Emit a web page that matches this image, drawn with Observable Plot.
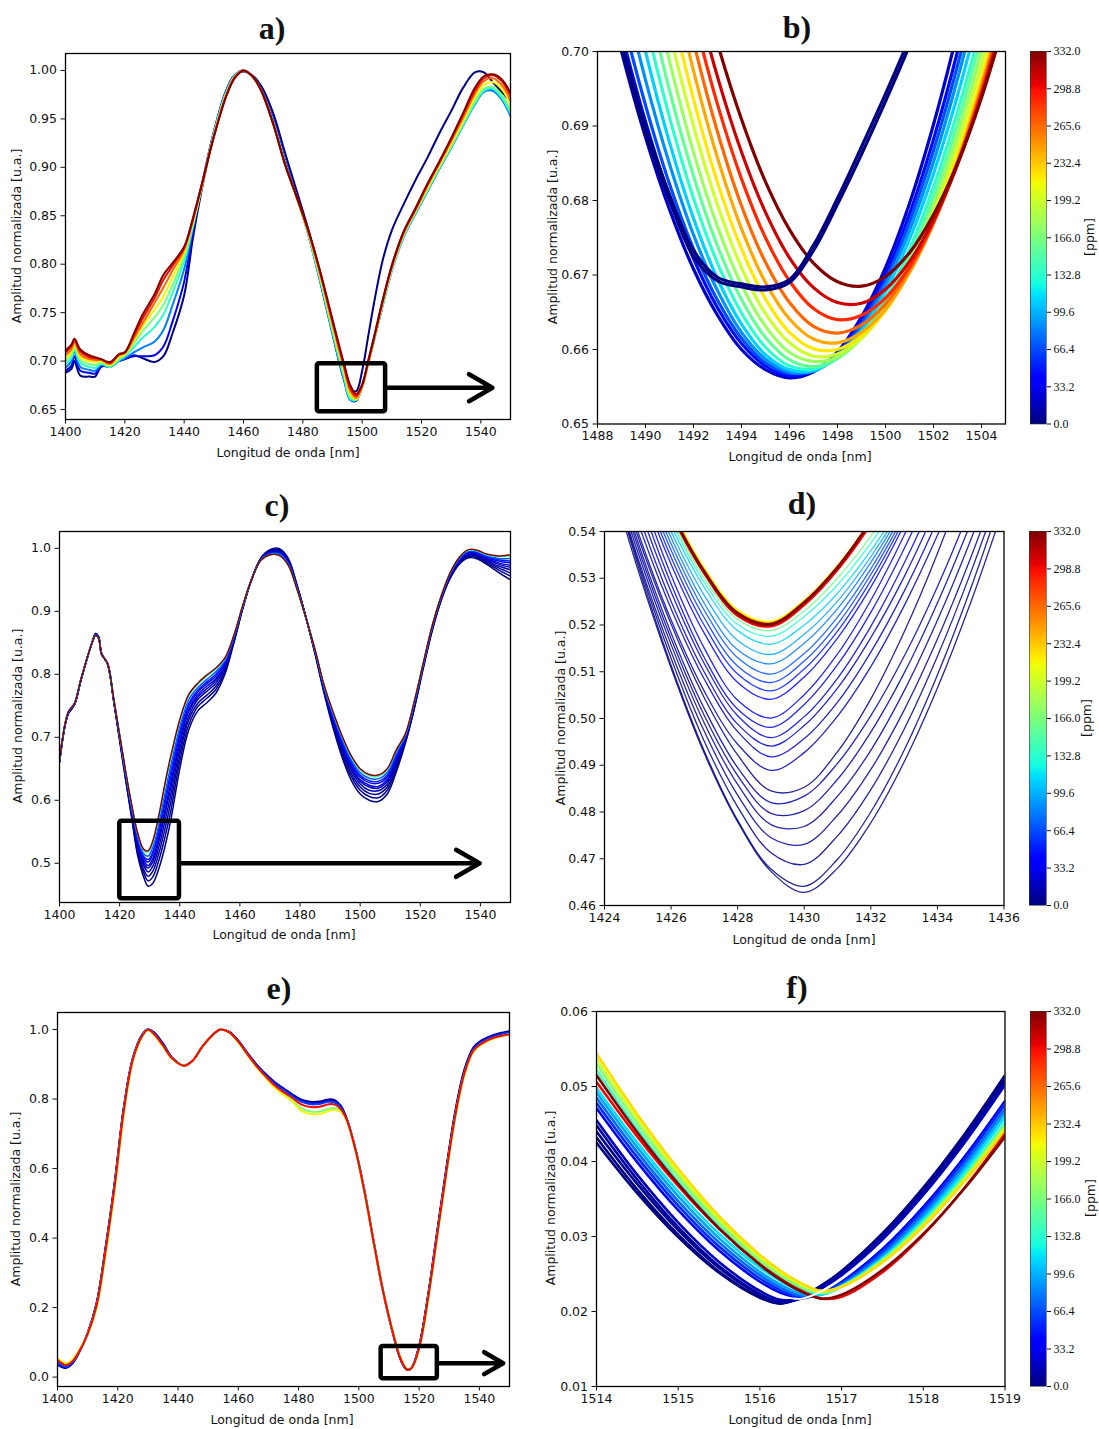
<!DOCTYPE html>
<html><head><meta charset="utf-8">
<script src="https://cdn.jsdelivr.net/npm/d3@7"></script>
<script src="https://cdn.jsdelivr.net/npm/@observablehq/plot@0.6"></script>
<style>
body{margin:0;background:#fff;}
#fig{position:relative;width:1099px;height:1429px;background:#fff;overflow:hidden;font-family:"DejaVu Sans",sans-serif;color:#111;}
#fig svg{position:absolute;}
.ttl{position:absolute;font-family:"Liberation Serif","Times New Roman",serif;font-weight:bold;font-size:32px;line-height:1;transform:translate(-50%,-50%);white-space:nowrap;}
.xl{position:absolute;font-size:12.5px;line-height:1;transform:translate(-50%,-50%);white-space:nowrap;}
.yl{position:absolute;font-size:12.5px;line-height:1;transform:translate(-50%,-50%) rotate(-90deg);white-space:nowrap;}
</style></head><body><div id="fig"></div>
<script>
// ---------- texts ----------
const panelTitles = ["a)","b)","c)","d)","e)","f)"];
const xLabel = "Longitud de onda [nm]";
const yLabel = "Amplitud normalizada [u.a.]";
const cbLabel = "[ppm]";

// ---------- ticks ----------
const ticksXFull = [1400,1420,1440,1460,1480,1500,1520,1540];
const ticksXB = [1488,1490,1492,1494,1496,1498,1500,1502,1504];
const ticksXD = [1424,1426,1428,1430,1432,1434,1436];
const ticksXF = [1514,1515,1516,1517,1518,1519];
const ticksYA = [0.65,0.70,0.75,0.80,0.85,0.90,0.95,1.00];
const ticksYB = [0.65,0.66,0.67,0.68,0.69,0.70];
const ticksYC = [0.5,0.6,0.7,0.8,0.9,1.0];
const ticksYD = [0.46,0.47,0.48,0.49,0.50,0.51,0.52,0.53,0.54];
const ticksYE = [0.0,0.2,0.4,0.6,0.8,1.0];
const ticksYF = [0.01,0.02,0.03,0.04,0.05,0.06];
const cbTicks = [0,33.2,66.4,99.6,132.8,166.0,199.2,232.4,265.6,298.8,332.0];

// ---------- panel a ----------
const aX = [1400,1402,1403,1405,1408,1410,1412,1415,1418,1420,1423,1426,1430,1433,1436,1440,1443,1446,1450,1454,1457,1460,1463,1466,1470,1474,1478,1482,1486,1489,1492,1494,1496,1498,1500,1502,1504,1507,1510,1514,1518,1522,1526,1530,1534,1538,1541,1544,1547,1550];
const a000 = [0.688,0.692,0.700,0.685,0.684,0.684,0.694,0.696,0.700,0.702,0.706,0.703,0.699,0.705,0.728,0.768,0.828,0.878,0.935,0.978,0.995,0.999,0.995,0.984,0.956,0.915,0.875,0.834,0.786,0.745,0.706,0.685,0.671,0.669,0.690,0.725,0.760,0.805,0.835,0.862,0.887,0.910,0.935,0.958,0.982,0.998,0.998,0.988,0.978,0.968];
const a033 = [0.690,0.695,0.705,0.690,0.688,0.687,0.695,0.694,0.700,0.702,0.705,0.705,0.706,0.715,0.740,0.782,0.835,0.882,0.937,0.978,0.995,1.000,0.994,0.980,0.950,0.908,0.870,0.829,0.780,0.741,0.702,0.679,0.660,0.659,0.674,0.698,0.722,0.760,0.795,0.830,0.853,0.876,0.899,0.921,0.944,0.966,0.978,0.980,0.972,0.955];
const a083 = [0.693,0.700,0.710,0.694,0.691,0.690,0.696,0.694,0.700,0.703,0.709,0.714,0.720,0.732,0.757,0.795,0.838,0.882,0.936,0.977,0.995,1.000,0.994,0.980,0.948,0.906,0.869,0.829,0.781,0.742,0.703,0.680,0.660,0.660,0.673,0.697,0.721,0.758,0.793,0.828,0.852,0.875,0.898,0.920,0.943,0.965,0.978,0.979,0.970,0.953];
const a133 = [0.697,0.703,0.712,0.698,0.694,0.693,0.697,0.694,0.701,0.705,0.714,0.724,0.735,0.748,0.770,0.803,0.840,0.881,0.935,0.976,0.994,1.000,0.994,0.979,0.947,0.905,0.868,0.829,0.782,0.743,0.705,0.682,0.661,0.660,0.673,0.697,0.722,0.759,0.794,0.829,0.853,0.876,0.899,0.921,0.944,0.966,0.979,0.981,0.972,0.956];
const a166 = [0.700,0.706,0.715,0.701,0.697,0.696,0.698,0.695,0.702,0.706,0.718,0.731,0.745,0.758,0.778,0.808,0.842,0.881,0.934,0.975,0.994,1.000,0.994,0.979,0.946,0.904,0.868,0.830,0.784,0.746,0.708,0.685,0.663,0.660,0.673,0.697,0.722,0.760,0.795,0.830,0.854,0.877,0.900,0.922,0.945,0.968,0.981,0.983,0.975,0.959];
const a216 = [0.703,0.709,0.718,0.704,0.700,0.699,0.700,0.696,0.704,0.707,0.721,0.736,0.753,0.767,0.786,0.812,0.844,0.881,0.933,0.974,0.993,1.000,0.994,0.979,0.945,0.903,0.868,0.831,0.786,0.748,0.711,0.688,0.666,0.661,0.673,0.697,0.722,0.761,0.796,0.831,0.855,0.879,0.902,0.924,0.948,0.972,0.985,0.988,0.981,0.965];
const a266 = [0.706,0.712,0.720,0.707,0.702,0.701,0.701,0.697,0.706,0.708,0.723,0.739,0.760,0.776,0.793,0.815,0.846,0.882,0.932,0.973,0.993,1.000,0.994,0.979,0.945,0.903,0.868,0.832,0.788,0.751,0.714,0.691,0.669,0.662,0.674,0.698,0.723,0.762,0.797,0.832,0.856,0.881,0.904,0.927,0.951,0.976,0.989,0.992,0.985,0.970];
const a299 = [0.709,0.715,0.722,0.710,0.704,0.703,0.702,0.698,0.707,0.709,0.726,0.744,0.765,0.784,0.798,0.817,0.847,0.883,0.932,0.972,0.992,1.000,0.994,0.979,0.945,0.903,0.869,0.833,0.790,0.753,0.717,0.694,0.672,0.664,0.675,0.699,0.724,0.763,0.798,0.833,0.857,0.882,0.905,0.929,0.954,0.979,0.992,0.995,0.989,0.974];
const a332 = [0.711,0.717,0.723,0.712,0.706,0.704,0.702,0.699,0.707,0.709,0.728,0.748,0.769,0.789,0.801,0.818,0.848,0.883,0.931,0.972,0.992,1.000,0.994,0.979,0.945,0.903,0.869,0.834,0.791,0.755,0.719,0.696,0.675,0.666,0.676,0.700,0.725,0.764,0.799,0.834,0.858,0.883,0.906,0.930,0.956,0.982,0.994,0.996,0.991,0.977];
const aBoxX = [1484.9, 1507.9], aBoxY = [0.6477, 0.6973];
const aArrowX = [1507.9, 1543.9], aArrowY = [0.6725];

// ---------- panel b ----------
const bX = [1488,1489,1490,1491,1492,1493,1494,1495,1496,1497,1498,1499,1500,1501,1502,1503,1504,1505];
const b000a = [0.7140,0.7005,0.6890,0.6800,0.6725,0.6692,0.6684,0.6680,0.6690,0.6733,0.6795,0.6862,0.6933,0.7008,0.7088,0.7170,0.7255,0.7340];
const b000b = [0.7150,0.7015,0.6900,0.6808,0.6733,0.6697,0.6688,0.6684,0.6694,0.6740,0.6803,0.6872,0.6943,0.7018,0.7098,0.7180,0.7265,0.7350];
const b022 = [0.7132,0.7000,0.6885,0.6788,0.6708,0.6646,0.6600,0.6573,0.6562,0.6570,0.6597,0.6644,0.6710,0.6796,0.6902,0.7027,0.7171,0.7335];
const b044 = [0.7162,0.7025,0.6906,0.6805,0.6722,0.6656,0.6608,0.6578,0.6565,0.6571,0.6596,0.6639,0.6701,0.6782,0.6882,0.7000,0.7138,0.7294];
const b066 = [0.7193,0.7051,0.6928,0.6822,0.6735,0.6666,0.6615,0.6582,0.6568,0.6572,0.6594,0.6634,0.6693,0.6771,0.6867,0.6981,0.7114,0.7266];
const b088 = [0.7247,0.7095,0.6962,0.6849,0.6754,0.6679,0.6623,0.6587,0.6570,0.6571,0.6591,0.6629,0.6686,0.6760,0.6852,0.6963,0.7092,0.7239];
const b110 = [0.7306,0.7143,0.7000,0.6878,0.6776,0.6695,0.6634,0.6593,0.6573,0.6572,0.6590,0.6625,0.6678,0.6748,0.6836,0.6941,0.7064,0.7204];
const b133 = [0.7362,0.7191,0.7041,0.6912,0.6803,0.6716,0.6649,0.6603,0.6578,0.6574,0.6588,0.6619,0.6668,0.6734,0.6818,0.6919,0.7037,0.7173];
const b155 = [0.7421,0.7242,0.7085,0.6948,0.6833,0.6739,0.6667,0.6616,0.6586,0.6577,0.6588,0.6616,0.6661,0.6724,0.6805,0.6903,0.7019,0.7152];
const b177 = [0.7482,0.7295,0.7130,0.6987,0.6865,0.6765,0.6687,0.6631,0.6596,0.6584,0.6590,0.6615,0.6657,0.6716,0.6793,0.6888,0.7000,0.7130];
const b199 = [0.7543,0.7349,0.7177,0.7027,0.6900,0.6794,0.6710,0.6648,0.6609,0.6591,0.6594,0.6615,0.6654,0.6710,0.6783,0.6874,0.6982,0.7108];
const b221 = [0.7606,0.7405,0.7226,0.7070,0.6936,0.6824,0.6735,0.6668,0.6623,0.6601,0.6600,0.6618,0.6652,0.6705,0.6774,0.6861,0.6965,0.7087];
const b243 = [0.7667,0.7460,0.7276,0.7114,0.6974,0.6857,0.6762,0.6690,0.6641,0.6614,0.6609,0.6623,0.6654,0.6703,0.6769,0.6853,0.6955,0.7073];
const b266 = [0.7724,0.7512,0.7324,0.7157,0.7013,0.6892,0.6793,0.6717,0.6663,0.6631,0.6622,0.6633,0.6661,0.6707,0.6770,0.6851,0.6950,0.7066];
const b288 = [0.7753,0.7546,0.7360,0.7195,0.7051,0.6929,0.6829,0.6750,0.6692,0.6655,0.6640,0.6646,0.6669,0.6711,0.6771,0.6849,0.6945,0.7059];
const b310 = [0.7775,0.7572,0.7390,0.7229,0.7087,0.6966,0.6865,0.6784,0.6723,0.6683,0.6663,0.6662,0.6681,0.6718,0.6774,0.6848,0.6941,0.7053];
const b332 = [0.7816,0.7617,0.7436,0.7275,0.7134,0.7011,0.6909,0.6825,0.6761,0.6716,0.6691,0.6685,0.6698,0.6730,0.6781,0.6850,0.6938,0.7045];

// ---------- panel c ----------
const cX = [1400,1401,1402,1403,1405,1407,1409,1411,1412,1413,1414,1416,1418,1420,1422,1424,1426,1428,1429.5,1431,1433,1435,1437,1440,1443,1446,1449,1452,1455,1458,1461,1464,1467,1470,1473,1476,1479,1482,1485,1488,1491,1494,1497,1500,1503,1506,1509,1512,1515,1518,1521,1524,1527,1530,1533,1536,1539,1542,1546,1550];
const c000 = [0.660,0.695,0.722,0.738,0.752,0.788,0.822,0.853,0.865,0.860,0.833,0.816,0.758,0.695,0.632,0.572,0.512,0.478,0.4635,0.468,0.491,0.525,0.568,0.650,0.712,0.742,0.755,0.770,0.800,0.850,0.905,0.952,0.985,0.998,1.000,0.985,0.942,0.890,0.832,0.770,0.715,0.668,0.632,0.610,0.600,0.598,0.610,0.645,0.690,0.745,0.810,0.870,0.918,0.953,0.975,0.985,0.983,0.975,0.962,0.950];
const c004 = [0.660,0.695,0.722,0.738,0.752,0.788,0.822,0.853,0.865,0.860,0.833,0.816,0.759,0.696,0.634,0.575,0.517,0.485,0.4720,0.478,0.504,0.540,0.583,0.662,0.720,0.749,0.762,0.776,0.804,0.852,0.906,0.952,0.984,0.997,0.998,0.983,0.941,0.890,0.833,0.772,0.719,0.673,0.638,0.616,0.606,0.604,0.616,0.650,0.692,0.747,0.811,0.871,0.919,0.954,0.977,0.987,0.985,0.977,0.966,0.956];
const c008 = [0.661,0.696,0.723,0.739,0.753,0.789,0.822,0.853,0.864,0.859,0.833,0.816,0.759,0.698,0.636,0.578,0.522,0.490,0.4793,0.487,0.515,0.553,0.597,0.672,0.728,0.754,0.767,0.781,0.807,0.853,0.906,0.952,0.984,0.996,0.997,0.982,0.940,0.890,0.834,0.774,0.722,0.678,0.643,0.621,0.611,0.610,0.621,0.655,0.694,0.748,0.812,0.872,0.920,0.956,0.978,0.989,0.987,0.979,0.969,0.961];
const c013 = [0.661,0.696,0.723,0.739,0.753,0.789,0.822,0.853,0.864,0.859,0.833,0.816,0.760,0.699,0.638,0.580,0.526,0.496,0.4861,0.495,0.525,0.565,0.609,0.681,0.734,0.760,0.773,0.786,0.810,0.855,0.907,0.952,0.983,0.995,0.996,0.981,0.939,0.890,0.835,0.775,0.725,0.682,0.648,0.626,0.616,0.615,0.626,0.659,0.696,0.750,0.813,0.873,0.921,0.957,0.979,0.990,0.989,0.981,0.972,0.966];
const c018 = [0.662,0.697,0.724,0.740,0.753,0.789,0.823,0.852,0.863,0.858,0.832,0.817,0.760,0.700,0.639,0.583,0.530,0.500,0.4923,0.502,0.534,0.576,0.620,0.690,0.741,0.764,0.777,0.790,0.813,0.856,0.908,0.952,0.983,0.994,0.994,0.979,0.938,0.889,0.836,0.777,0.728,0.685,0.652,0.630,0.621,0.619,0.630,0.663,0.698,0.751,0.814,0.874,0.922,0.958,0.981,0.992,0.990,0.983,0.975,0.970];
const c025 = [0.662,0.697,0.724,0.740,0.753,0.789,0.823,0.852,0.863,0.858,0.832,0.817,0.760,0.700,0.640,0.584,0.533,0.504,0.4963,0.507,0.540,0.583,0.627,0.695,0.744,0.768,0.781,0.793,0.815,0.857,0.908,0.952,0.983,0.993,0.994,0.979,0.938,0.889,0.836,0.778,0.730,0.688,0.655,0.633,0.624,0.622,0.633,0.665,0.699,0.752,0.815,0.875,0.922,0.958,0.981,0.993,0.991,0.984,0.977,0.973];
const c035 = [0.662,0.697,0.724,0.740,0.753,0.789,0.823,0.852,0.863,0.858,0.832,0.817,0.761,0.701,0.642,0.586,0.536,0.508,0.5019,0.514,0.548,0.593,0.637,0.703,0.750,0.772,0.785,0.797,0.818,0.858,0.908,0.952,0.982,0.993,0.993,0.978,0.937,0.889,0.837,0.779,0.732,0.691,0.659,0.637,0.628,0.627,0.637,0.669,0.700,0.753,0.815,0.875,0.923,0.959,0.982,0.994,0.993,0.986,0.980,0.977];
const c050 = [0.662,0.697,0.724,0.740,0.754,0.790,0.823,0.852,0.863,0.858,0.832,0.817,0.761,0.702,0.643,0.588,0.539,0.511,0.5059,0.518,0.554,0.600,0.645,0.709,0.754,0.775,0.788,0.800,0.820,0.859,0.909,0.952,0.982,0.992,0.992,0.977,0.937,0.889,0.837,0.780,0.734,0.694,0.661,0.640,0.631,0.630,0.640,0.671,0.701,0.754,0.816,0.876,0.923,0.960,0.983,0.995,0.994,0.987,0.982,0.980];
const c070 = [0.663,0.698,0.725,0.741,0.754,0.790,0.823,0.852,0.862,0.857,0.832,0.817,0.761,0.703,0.644,0.590,0.543,0.515,0.5115,0.525,0.562,0.610,0.655,0.716,0.760,0.779,0.792,0.804,0.822,0.860,0.909,0.952,0.982,0.991,0.991,0.976,0.936,0.889,0.838,0.781,0.736,0.697,0.665,0.644,0.635,0.634,0.644,0.675,0.703,0.755,0.817,0.877,0.924,0.961,0.984,0.996,0.995,0.989,0.984,0.984];
const c140 = [0.663,0.698,0.725,0.741,0.754,0.790,0.823,0.852,0.862,0.857,0.832,0.817,0.762,0.704,0.645,0.592,0.547,0.520,0.5177,0.532,0.572,0.621,0.666,0.725,0.766,0.784,0.797,0.808,0.825,0.862,0.910,0.952,0.981,0.990,0.989,0.974,0.935,0.889,0.839,0.782,0.739,0.701,0.669,0.648,0.639,0.638,0.648,0.679,0.704,0.757,0.818,0.878,0.925,0.962,0.986,0.997,0.996,0.990,0.987,0.988];
const c332 = [0.663,0.698,0.725,0.741,0.754,0.790,0.823,0.852,0.862,0.857,0.832,0.817,0.762,0.704,0.646,0.593,0.548,0.522,0.520,0.535,0.575,0.625,0.670,0.728,0.768,0.786,0.799,0.810,0.826,0.862,0.910,0.952,0.981,0.990,0.989,0.974,0.935,0.889,0.839,0.783,0.740,0.702,0.671,0.650,0.641,0.640,0.650,0.680,0.705,0.757,0.818,0.878,0.925,0.962,0.986,0.998,0.997,0.991,0.988,0.990];
const cBoxX = [1420.05, 1439.9], cBoxY = [0.4436, 0.5668];
const cArrowX = [1439.9, 1539.7], cArrowY = [0.5];

// ---------- panel d ----------
const dX = [1424,1425,1426,1427,1428,1429,1430,1431,1432,1433,1434,1435,1436];
const dPpm = [0,0,3,5,7,9,11,0,14,17,20,24,28,33,40,50,60,70,82,95,110,130,160,215,266,300,320,332];
const d01 = [0.5560,0.5319,0.5108,0.4925,0.4779,0.4673,0.4628,0.4680,0.4777,0.4907,0.5065,0.5248,0.5454];
const d02 = [0.5574,0.5329,0.5114,0.4930,0.4782,0.4678,0.4641,0.4699,0.4800,0.4932,0.5093,0.5278,0.5486];
const d03 = [0.5574,0.5337,0.5129,0.4951,0.4811,0.4713,0.4688,0.4749,0.4848,0.4977,0.5133,0.5312,0.5513];
const d04 = [0.5576,0.5344,0.5143,0.4972,0.4836,0.4745,0.4731,0.4793,0.4891,0.5018,0.5170,0.5344,0.5539];
const d05 = [0.5584,0.5356,0.5158,0.4990,0.4859,0.4773,0.4769,0.4834,0.4932,0.5059,0.5210,0.5382,0.5574];
const d06 = [0.5594,0.5368,0.5171,0.5006,0.4878,0.4797,0.4803,0.4870,0.4971,0.5097,0.5247,0.5418,0.5608];
const d07 = [0.5605,0.5378,0.5183,0.5021,0.4895,0.4820,0.4834,0.4904,0.5006,0.5133,0.5282,0.5453,0.5643];
const d08 = [0.5605,0.5390,0.5202,0.5044,0.4922,0.4845,0.4853,0.4929,0.5042,0.5185,0.5353,0.5547,0.5761];
const d09 = [0.5620,0.5400,0.5211,0.5058,0.4945,0.4889,0.4927,0.5005,0.5111,0.5241,0.5392,0.5562,0.5751];
const d10 = [0.5636,0.5420,0.5235,0.5084,0.4972,0.4918,0.4957,0.5035,0.5142,0.5272,0.5424,0.5596,0.5786];
const d11 = [0.5661,0.5440,0.5251,0.5099,0.4988,0.4941,0.4985,0.5065,0.5173,0.5303,0.5456,0.5626,0.5816];
const d12 = [0.5682,0.5460,0.5271,0.5117,0.5006,0.4959,0.5004,0.5086,0.5197,0.5332,0.5488,0.5665,0.5860];
const d13 = [0.5711,0.5482,0.5288,0.5130,0.5020,0.4981,0.5030,0.5115,0.5227,0.5363,0.5519,0.5695,0.5890];
const d14 = [0.5731,0.5502,0.5307,0.5150,0.5039,0.5001,0.5051,0.5138,0.5253,0.5392,0.5553,0.5734,0.5931];
const d15 = [0.5731,0.5515,0.5330,0.5182,0.5077,0.5041,0.5089,0.5172,0.5281,0.5414,0.5567,0.5740,0.5929];
const d16 = [0.5741,0.5528,0.5345,0.5199,0.5095,0.5059,0.5106,0.5187,0.5295,0.5425,0.5575,0.5744,0.5930];
const d17 = [0.5752,0.5540,0.5360,0.5215,0.5112,0.5077,0.5123,0.5202,0.5308,0.5435,0.5583,0.5749,0.5928];
const d18 = [0.5760,0.5552,0.5374,0.5231,0.5130,0.5095,0.5139,0.5217,0.5320,0.5445,0.5588,0.5748,0.5927];
const d19 = [0.5770,0.5563,0.5387,0.5246,0.5147,0.5117,0.5161,0.5235,0.5334,0.5452,0.5589,0.5742,0.5911];
const d20 = [0.5772,0.5571,0.5400,0.5263,0.5167,0.5137,0.5180,0.5251,0.5346,0.5459,0.5590,0.5735,0.5897];
const d21 = [0.5768,0.5576,0.5412,0.5280,0.5188,0.5159,0.5200,0.5268,0.5359,0.5467,0.5593,0.5732,0.5886];
const d22 = [0.5778,0.5586,0.5422,0.5291,0.5201,0.5176,0.5218,0.5286,0.5375,0.5482,0.5605,0.5742,0.5895];
const d23 = [0.5778,0.5589,0.5428,0.5300,0.5212,0.5188,0.5230,0.5300,0.5390,0.5499,0.5622,0.5763,0.5916];
const d24 = [0.5802,0.5612,0.5449,0.5320,0.5231,0.5207,0.5252,0.5326,0.5423,0.5540,0.5673,0.5824,0.5990];
const d25 = [0.5790,0.5601,0.5439,0.5311,0.5222,0.5199,0.5245,0.5320,0.5419,0.5537,0.5673,0.5825,0.5992];
const d26 = [0.5789,0.5600,0.5438,0.5310,0.5220,0.5197,0.5243,0.5318,0.5416,0.5534,0.5670,0.5822,0.5989];
const d27 = [0.5794,0.5605,0.5443,0.5315,0.5226,0.5203,0.5249,0.5324,0.5423,0.5542,0.5679,0.5832,0.6000];
const d28 = [0.5792,0.5603,0.5441,0.5313,0.5224,0.5201,0.5248,0.5323,0.5422,0.5541,0.5678,0.5831,0.5999];

// ---------- panel e ----------
const eX = [1400,1402,1403,1405,1407,1410,1413,1416,1419,1422,1425,1428,1430,1432,1435,1438,1442,1445,1448,1451,1454,1457,1460,1463,1466,1469,1472,1475,1478,1481,1484,1487,1490,1492,1494,1496,1499,1502,1505,1508,1511,1514,1516,1517.5,1520,1523,1526,1529,1532,1535,1538,1541,1545,1550];
const e000 = [0.035,0.027,0.027,0.040,0.068,0.126,0.214,0.376,0.562,0.776,0.918,0.984,1.000,0.992,0.960,0.920,0.896,0.912,0.950,0.980,0.999,0.993,0.968,0.933,0.900,0.873,0.849,0.831,0.813,0.798,0.792,0.793,0.799,0.797,0.781,0.743,0.652,0.530,0.386,0.249,0.137,0.047,0.021,0.027,0.090,0.238,0.420,0.600,0.765,0.884,0.948,0.970,0.985,0.995];
const e020 = [0.038,0.029,0.028,0.041,0.069,0.126,0.213,0.374,0.560,0.774,0.917,0.983,1.000,0.991,0.958,0.919,0.896,0.912,0.950,0.980,1.000,0.993,0.967,0.932,0.899,0.871,0.847,0.829,0.811,0.796,0.789,0.790,0.796,0.794,0.779,0.742,0.651,0.529,0.385,0.249,0.137,0.048,0.021,0.027,0.088,0.235,0.416,0.596,0.761,0.880,0.945,0.968,0.983,0.993];
const e060 = [0.042,0.032,0.030,0.043,0.070,0.125,0.211,0.371,0.557,0.771,0.916,0.982,1.000,0.989,0.956,0.918,0.896,0.912,0.950,0.980,1.000,0.992,0.966,0.931,0.897,0.869,0.844,0.826,0.808,0.792,0.785,0.786,0.792,0.790,0.776,0.741,0.650,0.528,0.385,0.249,0.138,0.049,0.022,0.027,0.087,0.232,0.412,0.592,0.757,0.877,0.942,0.965,0.981,0.991];
const e166 = [0.050,0.038,0.036,0.047,0.072,0.124,0.206,0.364,0.549,0.764,0.912,0.980,0.999,0.986,0.952,0.917,0.896,0.912,0.950,0.980,1.000,0.991,0.964,0.928,0.893,0.863,0.836,0.816,0.796,0.773,0.764,0.764,0.772,0.774,0.766,0.738,0.649,0.527,0.384,0.249,0.139,0.052,0.023,0.026,0.082,0.226,0.405,0.585,0.750,0.871,0.937,0.960,0.976,0.987];
const e215 = [0.055,0.042,0.040,0.051,0.075,0.122,0.200,0.355,0.540,0.755,0.908,0.978,0.998,0.985,0.951,0.916,0.896,0.912,0.950,0.980,1.000,0.991,0.963,0.927,0.892,0.862,0.833,0.812,0.792,0.766,0.757,0.757,0.766,0.769,0.763,0.737,0.648,0.527,0.384,0.250,0.140,0.053,0.023,0.026,0.080,0.223,0.402,0.582,0.747,0.868,0.935,0.958,0.975,0.986];
const e299 = [0.050,0.037,0.035,0.046,0.071,0.124,0.207,0.366,0.551,0.766,0.913,0.980,0.999,0.987,0.954,0.917,0.896,0.912,0.950,0.980,1.000,0.992,0.965,0.929,0.895,0.866,0.840,0.820,0.803,0.784,0.777,0.778,0.785,0.784,0.771,0.740,0.650,0.528,0.385,0.249,0.138,0.050,0.022,0.026,0.083,0.228,0.407,0.587,0.752,0.873,0.939,0.961,0.977,0.986];
const eBoxX = [1507.4, 1526.05], eBoxY = [-0.005, 0.088];
const eArrowX = [1526.05, 1547.9], eArrowY = [0.0401];

// ---------- panel f ----------
const fX = [1514,1514.5,1515,1515.5,1516,1516.25,1516.5,1516.75,1517,1517.5,1518,1518.5,1519];
const f000a = [0.0425,0.03576,0.02993,0.02517,0.02184,0.02105,0.02188,0.02341,0.02538,0.03040,0.03652,0.04358,0.0515];
const f000b = [0.0432,0.03626,0.03025,0.02534,0.02192,0.0211,0.02192,0.02344,0.02537,0.03034,0.03639,0.04337,0.0512];
const f005 = [0.0440,0.03698,0.03086,0.02583,0.02222,0.02122,0.02174,0.02317,0.02506,0.02993,0.03598,0.04297,0.0508];
const f010 = [0.0448,0.03757,0.03126,0.02608,0.02236,0.02132,0.02184,0.02324,0.02511,0.02991,0.03588,0.04278,0.0505];
const f015 = [0.0455,0.03821,0.03186,0.02661,0.02274,0.02157,0.02174,0.02304,0.02484,0.02960,0.03554,0.04244,0.0502];
const fWhite = [0.0465,0.03928,0.03293,0.02763,0.02357,0.02219,0.02168,0.02268,0.02430,0.02873,0.03440,0.04107,0.0486];
const f035 = [0.0471,0.03989,0.03351,0.02813,0.02397,0.0225,0.0217,0.02253,0.02406,0.02838,0.03398,0.0406,0.0481];
const f055 = [0.0478,0.04055,0.03412,0.02866,0.0244,0.02284,0.02188,0.02241,0.02384,0.02804,0.03354,0.04012,0.0476];
const f075 = [0.0485,0.04121,0.03472,0.02922,0.02485,0.02322,0.0221,0.02229,0.02361,0.02767,0.03307,0.0396,0.0470];
const f095 = [0.0492,0.04188,0.03538,0.02978,0.02529,0.0236,0.02237,0.02222,0.02341,0.02734,0.03266,0.0391,0.0465];
const f115 = [0.0498,0.04251,0.036,0.03037,0.02584,0.02408,0.02275,0.02227,0.02331,0.02706,0.03227,0.03862,0.0459];
const f140 = [0.0522,0.04436,0.03739,0.03137,0.02645,0.02455,0.02309,0.02243,0.02338,0.02696,0.03198,0.03813,0.0452];
const f170 = [0.0530,0.04507,0.03799,0.03186,0.02683,0.02487,0.02334,0.0225,0.02333,0.02678,0.03173,0.0378,0.0448];
const f200 = [0.0537,0.04571,0.03852,0.0323,0.02723,0.02519,0.0236,0.0226,0.02328,0.02663,0.03154,0.03754,0.0445];
const f225 = [0.0544,0.04628,0.03903,0.03272,0.02755,0.02546,0.02381,0.02278,0.02329,0.02655,0.03134,0.03732,0.0442];
const f300 = [0.0506,0.04331,0.03674,0.03102,0.02629,0.02437,0.0228,0.02174,0.02196,0.02523,0.03021,0.03643,0.0437];
const f332 = [0.0515,0.04386,0.03702,0.03108,0.02622,0.02425,0.02269,0.02172,0.02224,0.02553,0.03035,0.03637,0.0433];

// ---------- helpers ----------
function interp1(t, xs, ys) {
  for (let i = 1; i < xs.length; i++) {
    if (t <= xs[i]) { const u = (t - xs[i-1]) / (xs[i] - xs[i-1]); return ys[i-1] + u * (ys[i] - ys[i-1]); }
  }
  return ys[ys.length - 1];
}
const jet = (t) => {
  t = Math.max(0, Math.min(1, t));
  const r = interp1(t, [0,0.35,0.66,0.89,1], [0,0,1,1,0.5]);
  const g = interp1(t, [0,0.125,0.375,0.64,0.91,1], [0,0,1,1,0,0]);
  const b = interp1(t, [0,0.11,0.34,0.65,1], [0.5,1,1,0,0]);
  return `rgb(${Math.round(r*255)},${Math.round(g*255)},${Math.round(b*255)})`;
};
const colorScale = {type: "linear", domain: [0, 332], interpolate: jet};
const fig = document.getElementById("fig");

function addText(cls, txt, x, y) {
  const el = document.createElement("div");
  el.className = cls; el.textContent = txt;
  el.style.left = x + "px"; el.style.top = y + "px";
  fig.appendChild(el);
}

function toRows(grid, curves) {
  const rows = [];
  curves.forEach(([ppm, ys], k) => ys.forEach((y, i) => rows.push({x: grid[i], y, ppm, id: k})));
  return rows;
}

function annotation(boxX, boxY, arrX, arrY) {
  return [
    Plot.rect([{x1: boxX[0], x2: boxX[1], y1: boxY[0], y2: boxY[1]}],
      {x1: "x1", x2: "x2", y1: "y1", y2: "y2", fill: "none", stroke: "black", strokeWidth: 4.5, rx: 2}),
    Plot.arrow([{x1: arrX[0], x2: arrX[1], y: arrY[0]}],
      {x1: "x1", x2: "x2", y1: "y", y2: "y", stroke: "black", strokeWidth: 4.5, headLength: 9, headAngle: 60, strokeLinecap: "round", strokeLinejoin: "round"})
  ];
}

function drawPanel(cfg) {
  const [L, R, T, B] = cfg.frame;
  const mL = 62, mR = 22, mT = 10, mB = 30;
  const marks = [
    Plot.line(toRows(cfg.grid, cfg.curves), {x: "x", y: "y", z: "id", stroke: "ppm", strokeWidth: cfg.sw, strokeOpacity: cfg.op ?? 1, curve: "catmull-rom", clip: true})
  ];
  if (cfg.thick) marks.push(Plot.line(toRows(cfg.grid, cfg.thick), {x: "x", y: "y", z: "id", stroke: "ppm", strokeWidth: cfg.thickWidth, curve: "catmull-rom", clip: true}));
  if (cfg.white) marks.push(Plot.line(toRows(cfg.grid, [[0, cfg.white]]), {x: "x", y: "y", stroke: "white", strokeWidth: 1.8, curve: "catmull-rom", clip: true}));
  if (cfg.extra) marks.push(...cfg.extra);
  marks.push(
    Plot.frame({stroke: "#000", strokeWidth: 1.3}),
    Plot.axisX({ticks: cfg.xt, tickFormat: "d", tickSize: 4.5, tickPadding: 3, label: null, fontSize: 12.5}),
    Plot.axisY({ticks: cfg.yt, tickFormat: cfg.yf, tickSize: 4.5, tickPadding: 4, label: null, fontSize: 12.5})
  );
  const svg = Plot.plot({
    width: (R - L) + mL + mR, height: (B - T) + mT + mB,
    marginLeft: mL, marginRight: mR, marginTop: mT, marginBottom: mB,
    style: {fontFamily: "DejaVu Sans", fontSize: "12.5px", color: "#111", background: "transparent", overflow: "visible"},
    x: {domain: cfg.xd}, y: {domain: cfg.yd},
    color: colorScale,
    marks
  });
  svg.style.left = (L - mL) + "px"; svg.style.top = (T - mT) + "px";
  fig.appendChild(svg);
}

function drawColorbar(L, R, T, B) {
  const mL = 1, mR = 48, mT = 10, mB = 10;
  const levels = d3.range(0, 332, 2);
  const svg = Plot.plot({
    width: (R - L) + mL + mR, height: (B - T) + mT + mB,
    marginLeft: mL, marginRight: mR, marginTop: mT, marginBottom: mB,
    style: {fontFamily: "Liberation Serif", fontSize: "12px", color: "#111", background: "transparent", overflow: "visible"},
    x: {domain: [0, 1], axis: null}, y: {domain: [0, 332], axis: null},
    color: colorScale,
    marks: [
      Plot.rect(levels, {x1: 0, x2: 1, y1: d => d, y2: d => Math.min(332, d + 2.05), fill: d => d + 1, shapeRendering: "crispEdges"}),
      Plot.frame({stroke: "#333", strokeWidth: 0.6}),
      Plot.axisY({anchor: "right", ticks: cbTicks, tickFormat: d3.format(".1f"), tickSize: 4, tickPadding: 3, label: null, fontSize: 12, fontFamily: "Liberation Serif"})
    ]
  });
  svg.style.left = (L - mL) + "px"; svg.style.top = (T - mT) + "px";
  fig.appendChild(svg);
}

// ---------- panels ----------
drawPanel({frame: [65, 510, 53, 419], grid: aX, xd: [1400, 1550], yd: [0.6397, 1.0175], xt: ticksXFull, yt: ticksYA, yf: ".2f", sw: 2,
  curves: [[0, a000], [33, a033], [83, a083], [133, a133], [166, a166], [216, a216], [266, a266], [299, a299], [332, a332]],
  extra: annotation(aBoxX, aBoxY, aArrowX, aArrowY)});

drawPanel({frame: [597, 1005, 51, 423.5], grid: bX, xd: [1488, 1505], yd: [0.65, 0.70], xt: ticksXB, yt: ticksYB, yf: ".2f", sw: 3.2,
  curves: [[22, b022], [44, b044], [66, b066], [88, b088], [110, b110], [133, b133], [155, b155], [177, b177], [199, b199], [221, b221], [243, b243], [266, b266], [288, b288], [310, b310], [332, b332], [0, b000a], [0, b000b]]});

drawPanel({frame: [59, 510, 531, 902], grid: cX, xd: [1400, 1550], yd: [0.4377, 1.0268], xt: ticksXFull, yt: ticksYC, yf: ".1f", sw: 1.5,
  curves: [[0, c000], [4, c004], [8, c008], [13, c013], [18, c018], [25, c025], [35, c035], [50, c050], [70, c070], [140, c140], [332, c332]],
  extra: annotation(cBoxX, cBoxY, cArrowX, cArrowY)});

const dAll = [d01,d02,d03,d04,d05,d06,d07,d08,d09,d10,d11,d12,d13,d14,d15,d16,d17,d18,d19,d20,d21,d22,d23,d24,d25,d26,d27,d28].map((ys, i) => [dPpm[i], ys]);
drawPanel({frame: [603.5, 1003, 531, 905], grid: dX, xd: [1424, 1436], yd: [0.46, 0.54], xt: ticksXD, yt: ticksYD, yf: ".2f", sw: 1.3, op: 0.85,
  curves: dAll.filter(c => c[0] < 200), thick: dAll.filter(c => c[0] >= 200), thickWidth: 2.4});

drawPanel({frame: [57, 509, 1012, 1386], grid: eX, xd: [1400, 1550], yd: [-0.027, 1.049], xt: ticksXFull, yt: ticksYE, yf: ".1f", sw: 2,
  curves: [[0, e000], [20, e020], [60, e060], [166, e166], [215, e215], [299, e299]],
  extra: annotation(eBoxX, eBoxY, eArrowX, eArrowY)});

drawPanel({frame: [595.5, 1004, 1011, 1386], grid: fX, xd: [1514, 1519], yd: [0.01, 0.06], xt: ticksXF, yt: ticksYF, yf: ".2f", sw: 2.6,
  curves: [[0, f000a], [0, f000b], [5, f005], [10, f010], [15, f015], [35, f035], [55, f055], [75, f075], [95, f095], [115, f115], [140, f140], [170, f170], [200, f200], [225, f225], [300, f300], [332, f332]],
  white: fWhite});

drawColorbar(1030, 1046, 51, 423.5);
drawColorbar(1029, 1046, 531, 905);
drawColorbar(1030, 1046, 1011, 1386);

// ---------- texts ----------
const titlePos = [[272, 28], [797, 27], [277, 505], [802, 503], [279, 988], [797, 987]];
panelTitles.forEach((t, i) => addText("ttl", t, titlePos[i][0], titlePos[i][1]));
[[288, 453], [800, 457], [284, 935], [804, 940], [282, 1420], [800, 1420]].forEach(([x, y]) => addText("xl", xLabel, x, y));
[[17, 236], [553, 237], [17.5, 716], [561, 718], [16, 1199], [551, 1198]].forEach(([x, y]) => addText("yl", yLabel, x, y));
[[1090, 237], [1087, 718], [1091, 1198]].forEach(([x, y]) => addText("yl", cbLabel, x, y));
</script></body></html>
